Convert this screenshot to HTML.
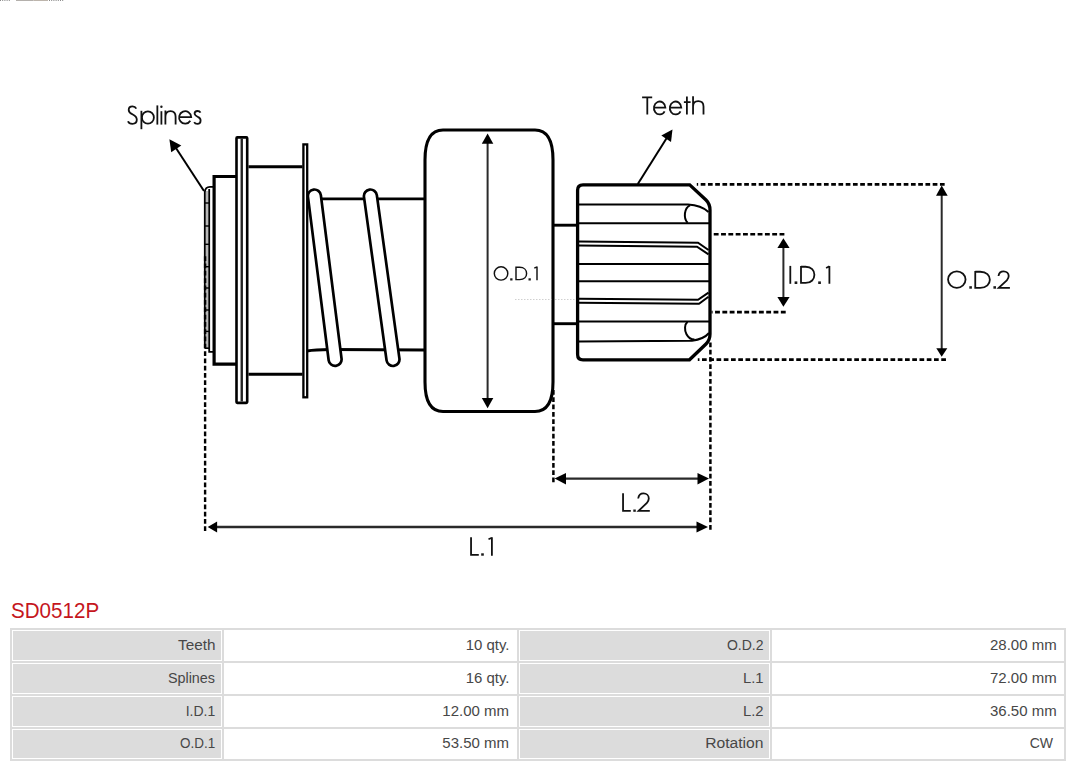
<!DOCTYPE html>
<html><head><meta charset="utf-8">
<style>
html,body{margin:0;padding:0;background:#fff;}
body{width:1080px;height:767px;position:relative;overflow:hidden;font-family:"Liberation Sans",sans-serif;}
#dia{position:absolute;left:0;top:0;}
</style></head><body>
<svg id="dia" width="1080" height="767" viewBox="0 0 1080 767">
<g stroke="#8a8a8a" stroke-width="1" stroke-dasharray="1 1.2"><line x1="0" y1="0.5" x2="10.6" y2="0.5"/><line x1="49" y1="0.5" x2="64" y2="0.5"/></g><rect x="16" y="0" width="17.5" height="1" fill="#b4b0ac"/><rect x="33.5" y="0" width="14.5" height="1" fill="#bdb5ac"/>

<g fill="none" stroke="#000" stroke-linecap="butt">
<!-- splines arrow -->
<line x1="204" y1="191" x2="174" y2="145" stroke-width="2"/>
<!-- spline column -->
<rect x="205.6" y="191" width="2.8" height="157" fill="#b8b8b8" stroke="none"/>
<path d="M204.8,348 L204.8,192 Q205.2,186.8 210,186.8 L213,186.8" stroke-width="1.8"/>
<path d="M209.2,189 L209.2,351.8 L213,351.8" stroke-width="1.8"/>
<path d="M204.8,348.2 L209,348.2" stroke-width="1.6"/>
<g stroke-width="1.4">
<line x1="205" y1="203" x2="209" y2="203"/>
<line x1="205" y1="226" x2="209" y2="226"/>
<line x1="205" y1="244.3" x2="209" y2="244.3"/>
<line x1="205" y1="266.7" x2="209" y2="266.7"/>
<line x1="205" y1="288" x2="209" y2="288"/>
<line x1="205" y1="310" x2="209" y2="310"/>
<line x1="205" y1="331.4" x2="209" y2="331.4"/>
</g>
<!-- collar -->
<path d="M236,176.5 L214.1,176.5 L214.1,364.2 L236,364.2" stroke-width="3.2"/>
<!-- flange 1 -->
<rect x="236.5" y="137.4" width="10.7" height="265.5" rx="0.8" stroke-width="2.6" fill="#fff"/>
<line x1="241.75" y1="138.5" x2="241.75" y2="401.5" stroke="#222" stroke-width="2.4"/>
<!-- body lines -->
<line x1="248.5" y1="166.75" x2="302.5" y2="166.75" stroke-width="2.9"/>
<line x1="248.5" y1="374.25" x2="302.5" y2="374.25" stroke-width="2.9"/>
<!-- shaft lines -->
<line x1="307" y1="198.8" x2="425" y2="198.8" stroke-width="2.8"/>
<path d="M307,351 Q315,349.6 330,349.5 L425,350" stroke-width="2.8"/>
<!-- coils -->
<line x1="314.4" y1="196" x2="335.1" y2="359.4" stroke-width="15.7" stroke-linecap="round"/>
<line x1="314.4" y1="196" x2="335.1" y2="359.4" stroke-width="10.3" stroke-linecap="round" stroke="#fff"/>
<line x1="370.4" y1="196" x2="393" y2="359.5" stroke-width="15.7" stroke-linecap="round"/>
<line x1="370.4" y1="196" x2="393" y2="359.5" stroke-width="10.3" stroke-linecap="round" stroke="#fff"/>
<!-- flange 2 -->
<rect x="303.4" y="144.4" width="3.8" height="252.9" stroke-width="2.3" fill="#fff"/>
<!-- big rect -->
<path d="M443,130 L535,130 Q553,130 553,160 L553,382 Q553,411.5 535,411.5 L443,411.5 Q425,411.5 425,382 L425,160 Q425,130 443,130 Z" stroke-width="3.1" fill="#fff"/>
<!-- small shaft -->
<line x1="554" y1="225.2" x2="578" y2="225.2" stroke-width="2.9"/>
<line x1="554" y1="323.7" x2="578" y2="323.7" stroke-width="2.9"/>
<!-- pinion -->
<path d="M583,184.8 L689.7,184.8 L706,200 Q710,204 710,210 L710,334 Q710,340 706,344 L689.5,359.8 L583,359.8 Q577.6,359.8 577.6,354.4 L577.6,190.2 Q577.6,184.8 583,184.8 Z" stroke-width="3.3" fill="#fff"/>
<g stroke-width="2">
<path d="M579,204.4 L688,204.6 C697,205.2 703.5,207.5 708.5,212"/>
<path d="M690,205.3 C684,208 683.3,218.5 687.6,222.8"/>
<line x1="579" y1="223.3" x2="709" y2="223.3"/>
<path d="M579,241.5 L698,242.7 L708.5,250"/>
<path d="M579,245.6 L697,246.7 L708.5,254.3"/>
<line x1="579" y1="264" x2="709" y2="264"/>
<line x1="579" y1="281.3" x2="709" y2="281.3"/>
<path d="M579,298.8 L698,299.8 L708.5,292.6"/>
<path d="M579,302.7 L699,303.7 L708.5,296.7"/>
<line x1="579" y1="321.5" x2="709" y2="321.5"/>
<path d="M579,341.5 L692,340.8 Q704,339 709,333"/>
<path d="M687.5,321.8 C684.5,324.5 684.3,330 686.5,334.3 C688.2,337.5 691,339.6 694.5,339.6"/>
</g>
<!-- teeth arrow -->
<line x1="637.8" y1="184" x2="668" y2="136" stroke-width="2"/>
</g>
<!-- dimension lines -->
<g fill="none" stroke="#000" stroke-width="2.6" stroke-dasharray="4.7 2.55">
<line x1="696.8" y1="184.4" x2="945.3" y2="184.4" stroke-dashoffset="3.35"/>
<line x1="697.8" y1="359.6" x2="946.4" y2="359.6" stroke-dashoffset="3.05"/>
<line x1="713.75" y1="234.2" x2="784.8" y2="234.2" stroke-dasharray="4.85 2.46"/>
<line x1="711.5" y1="312.1" x2="785.8" y2="312.1" stroke-dasharray="4.85 2.46" stroke-dashoffset="3.75"/>
<line x1="205.1" y1="256.25" x2="205.1" y2="531.1" stroke-width="2.4" stroke-dasharray="4.75 2.55"/>
<line x1="710.4" y1="342.4" x2="710.4" y2="530" stroke-width="2.5" stroke-dasharray="4.75 2.55"/>
<line x1="553.4" y1="390" x2="553.4" y2="482.7" stroke-width="2.5" stroke-dasharray="4.75 2.55"/>
</g>
<g fill="none" stroke="#2a2a2a" stroke-width="2">
<line x1="941.7" y1="195" x2="941.7" y2="349"/>
<line x1="783.4" y1="247" x2="783.4" y2="298"/>
<line x1="487.6" y1="143" x2="487.6" y2="398"/>
<line x1="216" y1="527" x2="697" y2="527" stroke-width="2.3"/>
<line x1="565" y1="478.6" x2="698" y2="478.6" stroke-width="2.3"/>
</g>
<g fill="#000">
<polygon points="169.4,139.3 171.2,152.2 181.3,145.6"/>
<polygon points="672.5,129.6 661.3,135.6 671,141.9"/>
<polygon points="941.7,185.6 936,195.8 947.7,195.8"/>
<polygon points="941.7,356.7 936.3,348.3 947.3,348.3"/>
<polygon points="783.4,238.3 777.4,248 789.6,248"/>
<polygon points="783.4,306.7 777.4,296.9 789.6,296.9"/>
<polygon points="487.6,133.6 481.8,143.8 493.3,143.8"/>
<polygon points="487.6,408.3 481.8,397.9 493.3,397.9"/>
<polygon points="207.7,527 217.1,521.6 217.1,532.5"/>
<polygon points="708,527 696.5,521.6 696.5,532.5"/>
<polygon points="554.6,478.6 566,473 566,484.5"/>
<polygon points="709,478.6 697.5,473 697.5,484.5"/>
</g>
<g stroke="#d0d0d0" stroke-width="1" stroke-dasharray="1.5 1.5"><line x1="515" y1="299.5" x2="551.3" y2="299.5"/><line x1="555" y1="299.5" x2="576" y2="299.5"/></g>
<g fill="none" stroke="#111" stroke-width="1.8" stroke-linecap="butt" stroke-linejoin="miter">
<!-- Splines -->
<path d="M136.3,108.6 C135.5,107 134.1,106.4 132.5,106.4 C130.1,106.4 128.7,107.9 128.7,109.9 C128.7,112.4 130.8,113.5 132.8,114.5 C135.3,115.7 136.8,117.1 136.8,119.8 C136.8,122.3 134.8,123.8 132.4,123.8 C130.2,123.8 128.6,122.8 128,121.2"/>
<path d="M141.4,110.8 V129.2"/>
<ellipse cx="147.9" cy="117.5" rx="6" ry="6.2"/>
<path d="M157.35,105.4 V124.6"/>
<path d="M161.4,111.2 V124.6"/>
<circle cx="161.4" cy="106.8" r="1.2" fill="#1a1a1a" stroke="none"/>
<path d="M165.4,110.6 V124.6 M165.4,116.8 C165.4,113.2 167.6,111.1 170.5,111.1 C173.5,111.1 175.6,113.2 175.6,116.8 V124.6"/>
<path d="M179.1,117.2 H191.2 A6.05,6.2 0 1 0 190.3,120.7"/>
<path d="M200.5,112.7 C199.9,111.5 198.8,111 197.5,111 C195.8,111 194.6,112.1 194.6,113.6 C194.6,115.4 196.3,116.1 197.8,116.8 C199.7,117.6 200.6,118.7 200.6,120.4 C200.6,122.4 199.1,123.8 197.3,123.8 C195.8,123.8 194.7,123.2 194.2,122.1"/>
<!-- Teeth -->
<path d="M642.1,97.35 H652.2 M647.3,97.35 V114.6"/>
<path d="M653.9,107.7 H665.4 A5.75,6.45 0 1 0 664.6,111.3"/>
<path d="M669.8,107.7 H681.3 A5.75,6.45 0 1 0 680.5,111.3"/>
<path d="M686.9,96.6 V114.6 M683.9,102.05 H690.6"/>
<path d="M693.05,96.2 V114.6 M693.05,106.5 C693.05,102.9 695.4,101.2 698.2,101.2 C701.2,101.2 703.5,103 703.5,106.5 V114.6"/>
<!-- O.D.1 -->
<g stroke-width="1.45">
<ellipse cx="501.05" cy="273.45" rx="6.75" ry="6.65"/>
<path d="M516,266.6 V280.3 M516,267.3 H519.6 C524.3,267.3 526.6,270.3 526.6,273.45 C526.6,276.6 524.3,279.6 519.6,279.6 H516"/>
<path d="M537,266.6 V280.3 M534.3,268.2 L537,266.8"/>
</g>
<rect x="510.2" y="278.3" width="2.3" height="2.2" fill="#1a1a1a" stroke="none"/>
<rect x="528.5" y="278.3" width="2.3" height="2.2" fill="#1a1a1a" stroke="none"/>
<!-- I.D.1 -->
<path d="M790.3,265.9 V283.8"/>
<path d="M801,265.9 V283.8 M801,266.75 H805.6 C811.4,266.75 814.4,270.6 814.4,274.85 C814.4,279.1 811.4,282.95 805.6,282.95 H801"/>
<path d="M829.4,265.9 V283.8 M826.1,268 L829.4,266.3"/>
<rect x="794.6" y="281.4" width="2.7" height="2.6" fill="#1a1a1a" stroke="none"/>
<rect x="818.2" y="281.4" width="2.7" height="2.6" fill="#1a1a1a" stroke="none"/>
<!-- O.D.2 -->
<ellipse cx="956.8" cy="279.6" rx="8.75" ry="8.25"/>
<path d="M975.25,270.9 V288.7 M975.25,271.75 H980.2 C986.6,271.75 989.85,275.6 989.85,279.8 C989.85,284 986.6,287.85 980.2,287.85 H975.25"/>
<path d="M998.5,276 C998.9,272.9 1001,271.3 1003.6,271.3 C1006.5,271.3 1008.7,273.4 1008.7,276.1 C1008.7,277.9 1007.9,279.1 1006.8,280.4 L998.7,287.85 H1009.9"/>
<rect x="969.3" y="286.2" width="2.6" height="2.5" fill="#1a1a1a" stroke="none"/>
<rect x="993.4" y="286.2" width="2.6" height="2.5" fill="#1a1a1a" stroke="none"/>
<!-- L.2 -->
<path d="M623.05,493.2 V510.85 H630.8"/>
<path d="M638.2,498.5 C638.7,494.9 640.8,493.45 643.5,493.45 C646.6,493.45 648.8,495.8 648.8,498.5 C648.8,500.4 648,501.6 646.9,503 L638.6,510.85 H649.8"/>
<rect x="633.3" y="509.5" width="2.5" height="2.3" fill="#1a1a1a" stroke="none"/>
<!-- L.1 -->
<path d="M471.05,537.3 V554.85 H478.8"/>
<path d="M491.9,537.3 V555.7 M488.5,539.2 L491.9,537.7"/>
<rect x="481.2" y="553.3" width="2.6" height="2.4" fill="#1a1a1a" stroke="none"/>
</g>
<!-- table -->
<rect x="10" y="628" width="1056" height="133" fill="#dcdcdc"/>
<g fill="#fff">
<rect x="12" y="630" width="210" height="31"/><rect x="224" y="630" width="293" height="31"/><rect x="519" y="630" width="251" height="31"/><rect x="772" y="630" width="292" height="31"/>
<rect x="12" y="663" width="210" height="31"/><rect x="224" y="663" width="293" height="31"/><rect x="519" y="663" width="251" height="31"/><rect x="772" y="663" width="292" height="31"/>
<rect x="12" y="696" width="210" height="31"/><rect x="224" y="696" width="293" height="31"/><rect x="519" y="696" width="251" height="31"/><rect x="772" y="696" width="292" height="31"/>
<rect x="12" y="729" width="210" height="30"/><rect x="224" y="729" width="293" height="30"/><rect x="519" y="729" width="251" height="30"/><rect x="772" y="729" width="292" height="30"/>
</g>
<g fill="#dcdcdc">
<rect x="13" y="631" width="208" height="29"/><rect x="520" y="631" width="249" height="29"/>
<rect x="13" y="664" width="208" height="29"/><rect x="520" y="664" width="249" height="29"/>
<rect x="13" y="697" width="208" height="29"/><rect x="520" y="697" width="249" height="29"/>
<rect x="13" y="730" width="208" height="28"/><rect x="520" y="730" width="249" height="28"/>
</g>
<g font-family="Liberation Sans, sans-serif" font-size="14" fill="#474747" text-anchor="end">
<text x="215.5" y="649.8" textLength="37.4" lengthAdjust="spacingAndGlyphs">Teeth</text><text x="509.5" y="649.8" textLength="43.8" lengthAdjust="spacingAndGlyphs">10 qty.</text><text x="763.5" y="649.8">O.D.2</text><text x="1056.7" y="649.8" textLength="66.7" lengthAdjust="spacingAndGlyphs">28.00 mm</text>
<text x="215" y="682.6" textLength="47.1" lengthAdjust="spacingAndGlyphs">Splines</text><text x="509.5" y="682.6" textLength="43.8" lengthAdjust="spacingAndGlyphs">16 qty.</text><text x="763.5" y="682.6" textLength="20.6" lengthAdjust="spacingAndGlyphs">L.1</text><text x="1056.7" y="682.6" textLength="66.7" lengthAdjust="spacingAndGlyphs">72.00 mm</text>
<text x="215.3" y="715.5">I.D.1</text><text x="509" y="715.5" textLength="66.7" lengthAdjust="spacingAndGlyphs">12.00 mm</text><text x="763.5" y="715.5" textLength="20.6" lengthAdjust="spacingAndGlyphs">L.2</text><text x="1056.7" y="715.5" textLength="66.7" lengthAdjust="spacingAndGlyphs">36.50 mm</text>
<text x="215.3" y="748" textLength="35.2" lengthAdjust="spacingAndGlyphs">O.D.1</text><text x="509" y="748" textLength="66.7" lengthAdjust="spacingAndGlyphs">53.50 mm</text><text x="763.5" y="748" textLength="58.3" lengthAdjust="spacingAndGlyphs">Rotation</text><text x="1053" y="748">CW</text>
</g>
<text x="11" y="618.3" font-family="Liberation Sans, sans-serif" font-size="21.8" textLength="88.2" lengthAdjust="spacingAndGlyphs" fill="#c5161d">SD0512P</text>
</svg>
</body></html>
